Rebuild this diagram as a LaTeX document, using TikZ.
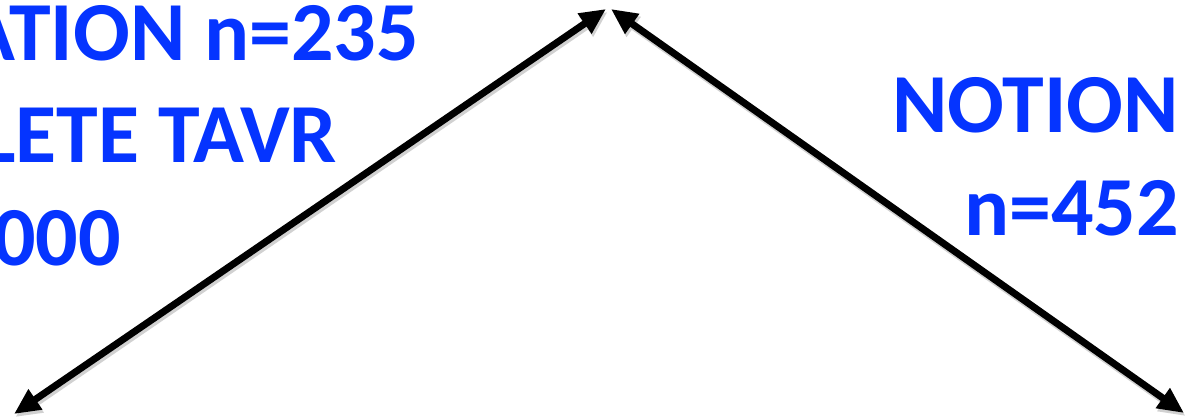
\documentclass[tikz,border=0pt]{standalone}
\usepackage{fontspec}
\setmainfont{Carlito}
\usetikzlibrary{arrows.meta}
\definecolor{txtblue}{RGB}{5,52,255}
\tikzset{
  lbl/.style={inner sep=0pt, outer sep=0pt, text=txtblue, font=\fontsize{84}{100}\selectfont\bfseries},
  darrow/.style={line width=7pt, black, {Triangle[length=26pt,width=23pt]}-{Triangle[length=26pt,width=23pt]}},
  dshadow/.style={darrow, draw=black!18, fill=black!18, transform canvas={shift={(1.5pt,-3pt)}}}
}
\begin{document}
\begin{tikzpicture}[x=1pt,y=-1pt]
\useasboundingbox (0,0) rectangle (1186,417);
\clip (0,0) rectangle (1186,417);
\fill[white] (0,0) rectangle (1186,417);
% left text block (cropped)
\node[lbl, anchor=base east] (l1) at (419,61) {ATION n=235};
\node[lbl, anchor=base east] (l2) at (337,162) {LETE TAVR};
\node[lbl, anchor=base east] (l3) at (121,265) {000};
% right text block (cropped)
\node[lbl, anchor=base east] (r1) at (1179,132) {NOTION};
\node[lbl, anchor=base east] (r2) at (1179,235) {n=452};
% arrow end points
\coordinate (apexL) at (606,9);
\coordinate (apexR) at (611,9);
\coordinate (botL) at (14,414);
\coordinate (botR) at (1184,413);
\draw[dshadow] (botL) -- (apexL);
\draw[dshadow] (apexR) -- (botR);
\draw[darrow] (botL) -- (apexL);
\draw[darrow] (apexR) -- (botR);
\end{tikzpicture}
\end{document}
